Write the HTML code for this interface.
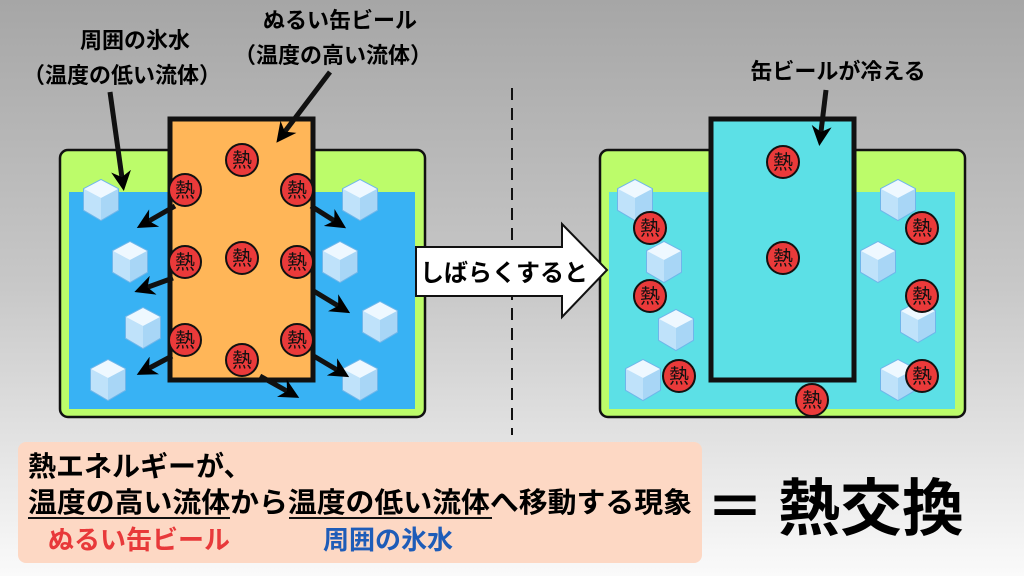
<!DOCTYPE html>
<html><head><meta charset="utf-8"><style>
html,body{margin:0;padding:0;width:1024px;height:576px;overflow:hidden;}
body{background:linear-gradient(#a6a6a6,#c8c8c8 50%,#fafafa);}
svg{display:block;}
svg text{font-family:"Liberation Sans","Noto Sans CJK JP",sans-serif;font-weight:bold;}
</style></head><body>
<svg width="1024" height="576" viewBox="0 0 1024 576" xmlns="http://www.w3.org/2000/svg">
<defs>
<marker id="ah" viewBox="0 0 10 10" refX="7" refY="5" markerWidth="4" markerHeight="4" orient="auto" markerUnits="strokeWidth">
<path d="M0,0 L10,5 L0,10 L3,5 Z" fill="#000"/>
</marker>
<g id="ice">
<path d="M0,-20 L17,-11 L17,10 L0,20 L-17,10 L-17,-11 Z" fill="#cfeafc" stroke="#6fb6ea" stroke-width="2"/>
<path d="M0,-20 L17,-11 L0,-2 L-17,-11 Z" fill="#eef8ff"/>
<path d="M0,-2 L17,-11 L17,10 L0,20 Z" fill="#a8d6f6"/>
<path d="M-17,-11 L0,-2 L0,20 L-17,10 Z" fill="#bfe2fa"/>
</g>
<g id="heat">
<circle r="16" fill="#ea3a3a" stroke="#111" stroke-width="2"/>
<text y="7" font-size="20" text-anchor="middle" fill="#111" style="font-weight:normal">熱</text>
</g>
</defs>

<!-- labels -->
<text x="135" y="48" font-size="22" text-anchor="middle">周囲の氷水</text>
<text x="122" y="83" font-size="22" text-anchor="middle">（温度の低い流体）</text>
<text x="340" y="28" font-size="22" text-anchor="middle">ぬるい缶ビール</text>
<text x="333" y="63" font-size="22" text-anchor="middle">（温度の高い流体）</text>
<text x="838" y="79" font-size="22" text-anchor="middle">缶ビールが冷える</text>

<line x1="512" y1="88" x2="512" y2="435" stroke="#111" stroke-width="2" stroke-dasharray="12,8"/>

<rect x="60" y="150" width="365" height="267" rx="8" fill="#bcfc6a" stroke="#111" stroke-width="2.5"/>
<rect x="69" y="192" width="346" height="217" fill="#38b2f4"/>
<rect x="170" y="119" width="143" height="261" fill="#ffb658" stroke="#111" stroke-width="5"/>

<rect x="600" y="150" width="365" height="267" rx="8" fill="#bcfc6a" stroke="#111" stroke-width="2.5"/>
<rect x="609" y="192" width="346" height="217" fill="#5ce0e6"/>
<rect x="711" y="119" width="143" height="261" fill="#5ce0e6" stroke="#111" stroke-width="5"/>

<use href="#ice" x="101" y="200"/><use href="#ice" x="130" y="262"/><use href="#ice" x="143" y="328"/><use href="#ice" x="108" y="380"/>
<use href="#ice" x="360" y="200"/><use href="#ice" x="340" y="262"/><use href="#ice" x="380" y="322"/><use href="#ice" x="360" y="380"/>

<g stroke="#111" stroke-width="5" fill="none" marker-end="url(#ah)">
<line x1="175" y1="206" x2="142" y2="225"/>
<line x1="173" y1="278" x2="140" y2="290"/>
<line x1="172" y1="356" x2="142" y2="372"/>
<line x1="311" y1="206" x2="341" y2="225"/>
<line x1="312" y1="290" x2="345" y2="310"/>
<line x1="312" y1="355" x2="344" y2="374"/>
<line x1="260" y1="376" x2="294" y2="395"/>
<line x1="110" y1="92" x2="123" y2="185"/>
<line x1="330" y1="72" x2="280" y2="138"/>
<line x1="826" y1="90" x2="820" y2="140"/>
</g>

<use href="#heat" x="242" y="160"/><use href="#heat" x="185" y="190"/><use href="#heat" x="297" y="190"/>
<use href="#heat" x="185" y="262"/><use href="#heat" x="242" y="258"/><use href="#heat" x="297" y="262"/>
<use href="#heat" x="185" y="340"/><use href="#heat" x="297" y="340"/><use href="#heat" x="242" y="360"/>

<use href="#ice" x="635" y="200"/><use href="#ice" x="664" y="262"/><use href="#ice" x="676" y="330"/><use href="#ice" x="643" y="380"/>
<use href="#ice" x="898" y="200"/><use href="#ice" x="878" y="262"/><use href="#ice" x="918" y="322"/><use href="#ice" x="898" y="380"/>

<use href="#heat" x="783" y="162"/><use href="#heat" x="783" y="258"/>
<use href="#heat" x="650" y="228"/><use href="#heat" x="650" y="296"/><use href="#heat" x="679" y="376"/>
<use href="#heat" x="922" y="228"/><use href="#heat" x="922" y="296"/><use href="#heat" x="922" y="376"/>
<use href="#heat" x="812" y="400"/>

<path d="M416,247 L562,247 L562,224 L607,270 L562,317 L562,296 L416,296 Z" fill="#fff" stroke="#111" stroke-width="2"/>
<text x="420" y="281" font-size="24">しばらくすると</text>

<rect x="18" y="442" width="684" height="121" rx="8" fill="#fdd8c4"/>
<text x="28" y="476" font-size="28">熱エネルギーが、</text>
<text x="28" y="512" font-size="28" textLength="664" lengthAdjust="spacingAndGlyphs">温度の高い流体から温度の低い流体へ移動する現象</text>
<line x1="28" y1="518" x2="230" y2="518" stroke="#111" stroke-width="2"/>
<line x1="289" y1="518" x2="492" y2="518" stroke="#111" stroke-width="2"/>
<text x="48" y="549" font-size="26" fill="#e8393a">ぬるい缶ビール</text>
<text x="323" y="549" font-size="26" fill="#1e5cb8">周囲の氷水</text>

<text x="706" y="528" font-size="58">＝</text>
<text x="778" y="530" font-size="62">熱交換</text>
</svg>
</body></html>
